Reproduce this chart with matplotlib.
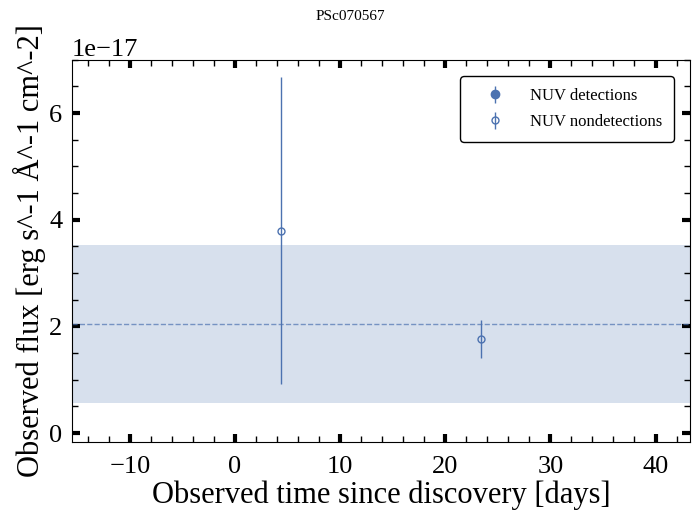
import numpy as np
import matplotlib.pyplot as plt
from matplotlib.ticker import MultipleLocator

plt.rcParams['font.family'] = ['Liberation Serif', 'DejaVu Serif']
plt.rcParams['mathtext.fontset'] = 'stix'

color = '#4C72B0'

# detections (none in this object)
det_t = []
det_f = []
det_err = []

# nondetections
non_t = [4.38, 23.43]
non_f = [3.79e-17, 1.77e-17]
non_lo = [2.87e-17, 0.36e-17]
non_hi = [2.88e-17, 0.35e-17]

# background level and its spread
bg_mean = 2.05e-17
bg_low = 0.56e-17
bg_high = 3.53e-17

fig, ax = plt.subplots(figsize=(7, 5.19), dpi=100)

ax.axhspan(bg_low, bg_high, color=color, alpha=0.22, lw=0)
ax.axhline(bg_mean, color=color, alpha=0.7, ls='--', lw=1)

ax.errorbar(det_t, det_f, yerr=det_err, fmt='o', color=color,
            elinewidth=1, label='NUV detections')
ax.errorbar(non_t, non_f, yerr=[non_lo, non_hi], fmt='o', color=color,
            mfc='none', elinewidth=1, ms=5, label='NUV nondetections')

ax.set_xlim(-15.5, 43.3)
ax.set_ylim(-0.17e-17, 7.0e-17)

ax.xaxis.set_major_locator(MultipleLocator(10))
ax.xaxis.set_minor_locator(MultipleLocator(2))
ax.yaxis.set_major_locator(MultipleLocator(2e-17))
ax.yaxis.set_minor_locator(MultipleLocator(0.5e-17))
ax.tick_params(which='both', direction='in', top=True, right=True)
ax.tick_params(which='major', length=6, width=3, labelsize=19)
ax.tick_params(which='minor', length=4, width=1)
ax.tick_params(axis='x', which='major', pad=10)
ax.tick_params(axis='y', which='major', pad=7)
ax.yaxis.get_offset_text().set_fontsize(19)

ax.set_xlabel('Observed time since discovery [days]', fontsize=22, labelpad=2)
ax.set_ylabel('Observed flux [erg s^-1 Å^-1 cm^-2]', fontsize=22, labelpad=2)
fig.suptitle('PSc070567', fontsize=11, y=0.98)

ax.legend(loc='upper right', fontsize=12, frameon=True, edgecolor='black',
          fancybox=True, framealpha=1, borderpad=0.7, handletextpad=0.65,
          borderaxespad=1.0, handlelength=2.8, labelspacing=0.6)

fig.subplots_adjust(left=0.103, right=0.986, top=0.885, bottom=0.148)
fig.savefig('out.png', dpi=100)
